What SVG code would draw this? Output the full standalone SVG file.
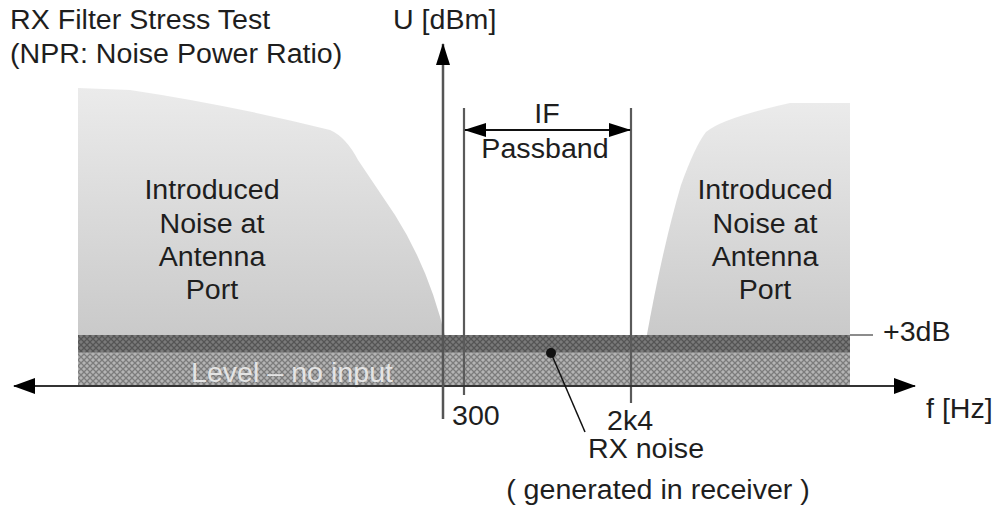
<svg xmlns="http://www.w3.org/2000/svg" width="995" height="512" viewBox="0 0 995 512">
<style>
text{font-family:"Liberation Sans",Arial,sans-serif;font-size:27px;fill:#1e1e1e}
.mid{text-anchor:middle}
.ax{stroke:#333;stroke-width:2;fill:none}
.vl{stroke:#5a5a5a;stroke-width:2.2;fill:none}
.lead{stroke:#111;stroke-width:1.5;fill:none}
</style>
<defs>
<linearGradient id="gr" x1="0" y1="0" x2="0" y2="1">
<stop offset="0" stop-color="#ebebeb"/>
<stop offset="1" stop-color="#c9c9c9"/>
</linearGradient>
<pattern id="hD" width="6" height="6" patternUnits="userSpaceOnUse">
<rect width="6" height="6" fill="#7a7a7a"/>
<path d="M0,0L6,6M6,0L0,6" stroke="#555" stroke-width="1.3"/>
</pattern>
<pattern id="hL" width="6" height="6" patternUnits="userSpaceOnUse">
<rect width="6" height="6" fill="#b4b4b4"/>
<path d="M0,0L6,6M6,0L0,6" stroke="#7c7c7c" stroke-width="1.3"/>
</pattern>
<marker id="arr" viewBox="0 0 22 16" refX="21" refY="8" markerWidth="22" markerHeight="16" markerUnits="userSpaceOnUse" orient="auto-start-reverse">
<path d="M0,0L22,8L0,16Z" fill="#000"/>
</marker>
<marker id="arrS" viewBox="0 0 22 14" refX="21" refY="7" markerWidth="22" markerHeight="14" markerUnits="userSpaceOnUse" orient="auto-start-reverse">
<path d="M0,0L22,7L0,14Z" fill="#000"/>
</marker>
</defs>

<g id="title">
<text transform="translate(10,29) scale(1.06,1)">RX Filter Stress Test</text>
<text transform="translate(10,63) scale(1.06,1)">(NPR: Noise Power Ratio)</text>
</g>

<g id="noise-left">
<path d="M78,88 L130,90 Q230,105 330,130 Q346,137 358,160 L395,215 Q430,270 446,340 L78,340 Z" fill="url(#gr)"/>
<text class="mid" transform="translate(212,199) scale(1.06,1)">Introduced</text>
<text class="mid" transform="translate(212,233) scale(1.06,1)">Noise at</text>
<text class="mid" transform="translate(212,266) scale(1.06,1)">Antenna</text>
<text class="mid" transform="translate(212,299) scale(1.06,1)">Port</text>
</g>

<g id="noise-right">
<path d="M850,103 L790,103 Q722,118 706,132 Q695,146 681,185 Q662,250 646,340 L850,340 Z" fill="url(#gr)"/>
<text class="mid" transform="translate(765,199) scale(1.06,1)">Introduced</text>
<text class="mid" transform="translate(765,233) scale(1.06,1)">Noise at</text>
<text class="mid" transform="translate(765,266) scale(1.06,1)">Antenna</text>
<text class="mid" transform="translate(765,299) scale(1.06,1)">Port</text>
</g>

<g id="bands">
<rect x="78" y="335" width="772" height="18" fill="url(#hD)"/>
<rect x="78" y="353" width="772" height="33" fill="url(#hL)"/>
<line x1="78" y1="353" x2="850" y2="353" stroke="#b0b0b0" stroke-width="1"/>
<text class="mid" style="fill:#e4e4e4" transform="translate(292,382) scale(1.06,1)">Level – no input</text>
</g>

<g id="connectors">
<line class="vl" x1="464" y1="108" x2="464" y2="395"/>
<line class="vl" x1="631" y1="108" x2="631" y2="403"/>
<line class="ax" x1="14" y1="386" x2="915" y2="386" marker-start="url(#arr)" marker-end="url(#arr)"/>
<line x1="443" y1="419" x2="443" y2="44" stroke="#555" stroke-width="2.5" marker-end="url(#arrS)"/>
<line x1="465" y1="130" x2="630" y2="130" stroke="#111" stroke-width="2" marker-start="url(#arrS)" marker-end="url(#arrS)"/>
<line x1="850" y1="335" x2="873" y2="335" stroke="#666" stroke-width="1.5"/>
<line class="lead" x1="551" y1="353" x2="585" y2="432"/>
<circle cx="551" cy="353" r="5" fill="#111"/>
</g>

<g id="labels">
<text transform="translate(393,29) scale(1.06,1)">U [dBm]</text>
<text class="mid" transform="translate(547,123) scale(1.06,1)">IF</text>
<text class="mid" transform="translate(545,158) scale(1.06,1)">Passband</text>
<text transform="translate(883,341) scale(1.06,1)">+3dB</text>
<text transform="translate(926,418) scale(1.06,1)">f [Hz]</text>
<text transform="translate(452,425) scale(1.06,1)">300</text>
<text transform="translate(607,430) scale(1.06,1)">2k4</text>
<text transform="translate(588,458) scale(1.06,1)">RX noise</text>
<text class="mid" transform="translate(658,499) scale(1.06,1)">( generated in receiver )</text>
</g>
</svg>
